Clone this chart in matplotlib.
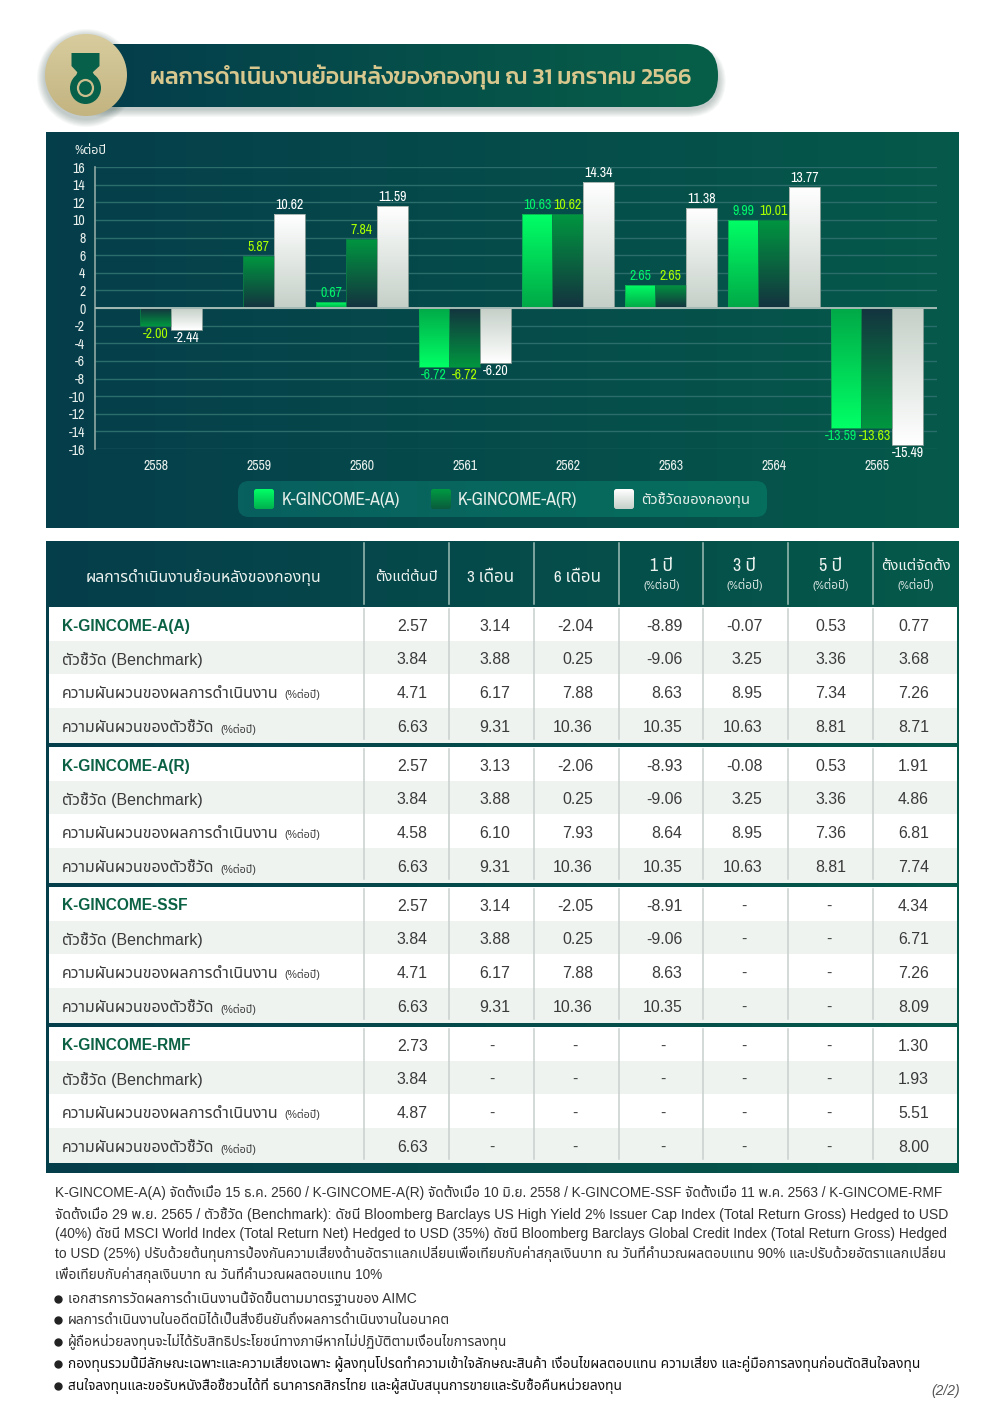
import numpy as np
import matplotlib
matplotlib.use("Agg")
import matplotlib.pyplot as plt
from matplotlib.colors import LinearSegmentedColormap, to_rgb
from matplotlib.patches import FancyBboxPatch, Circle, Ellipse, Polygon, Rectangle

plt.rcParams["axes.unicode_minus"] = False

# ข้อมูลกราฟ
years = ["2558", "2559", "2560", "2561", "2562", "2563", "2564", "2565"]
series_names = ["K-GINCOME-A(A)", "K-GINCOME-A(R)", "ตัวชี้วัดของกองทุน"]
fund_a = [np.nan, np.nan, 0.67, -6.72, 10.63, 2.65, 9.99, -13.59]
fund_r = [-2.00, 5.87, 7.84, -6.72, 10.62, 2.65, 10.01, -13.63]
benchmark = [-2.44, 10.62, 11.59, -6.20, 14.34, 11.38, 13.77, -15.49]

# ข้อมูลตาราง
columns = ["ตั้งแต่ต้นปี", "3 เดือน", "6 เดือน", "1 ปี", "3 ปี", "5 ปี", "ตั้งแต่จัดตั้ง"]
table_title = "ผลการดำเนินงานย้อนหลังของกองทุน"
per_year = "(%ต่อปี)"
fund_names = ["K-GINCOME-A(A)", "K-GINCOME-A(R)", "K-GINCOME-SSF", "K-GINCOME-RMF"]
row_bench = "ตัวชี้วัด (Benchmark)"
row_sd_fund = "ความผันผวนของผลการดำเนินงาน"
row_sd_bench = "ความผันผวนของตัวชี้วัด"

a_rows = [[2.57, 3.14, -2.04, -8.89, -0.07, 0.53, 0.77],
          [3.84, 3.88, 0.25, -9.06, 3.25, 3.36, 3.68],
          [4.71, 6.17, 7.88, 8.63, 8.95, 7.34, 7.26],
          [6.63, 9.31, 10.36, 10.35, 10.63, 8.81, 8.71]]
r_rows = [[2.57, 3.13, -2.06, -8.93, -0.08, 0.53, 1.91],
          [3.84, 3.88, 0.25, -9.06, 3.25, 3.36, 4.86],
          [4.58, 6.10, 7.93, 8.64, 8.95, 7.36, 6.81],
          [6.63, 9.31, 10.36, 10.35, 10.63, 8.81, 7.74]]
ssf_rows = [[2.57, 3.14, -2.05, -8.91, None, None, 4.34],
            [3.84, 3.88, 0.25, -9.06, None, None, 6.71],
            [4.71, 6.17, 7.88, 8.63, None, None, 7.26],
            [6.63, 9.31, 10.36, 10.35, None, None, 8.09]]
rmf_rows = [[2.73, None, None, None, None, None, 1.30],
            [3.84, None, None, None, None, None, 1.93],
            [4.87, None, None, None, None, None, 5.51],
            [6.63, None, None, None, None, None, 8.00]]

title = "ผลการดำเนินงานย้อนหลังของกองทุน ณ 31 มกราคม 2566"
notes = [
    "K-GINCOME-A(A) จัดตั้งเมื่อ 15 ธ.ค. 2560 / K-GINCOME-A(R) จัดตั้งเมื่อ 10 มิ.ย. 2558 / K-GINCOME-SSF จัดตั้งเมื่อ 11 พ.ค. 2563 / K-GINCOME-RMF",
    "จัดตั้งเมื่อ 29 พ.ย. 2565 / ตัวชี้วัด (Benchmark): ดัชนี Bloomberg Barclays US High Yield 2% Issuer Cap Index (Total Return Gross) Hedged to USD",
    "(40%) ดัชนี MSCI World Index (Total Return Net) Hedged to USD (35%) ดัชนี Bloomberg Barclays Global Credit Index (Total Return Gross) Hedged",
    "to USD (25%) ปรับด้วยต้นทุนการป้องกันความเสี่ยงด้านอัตราแลกเปลี่ยนเพื่อเทียบกับค่าสกุลเงินบาท ณ วันที่คำนวณผลตอบแทน 90% และปรับด้วยอัตราแลกเปลี่ยน",
    "เพื่อเทียบกับค่าสกุลเงินบาท ณ วันที่คำนวณผลตอบแทน 10%",
]
bullets = [
    "เอกสารการวัดผลการดำเนินงานนี้จัดขึ้นตามมาตรฐานของ AIMC",
    "ผลการดำเนินงานในอดีตมิได้เป็นสิ่งยืนยันถึงผลการดำเนินงานในอนาคต",
    "ผู้ถือหน่วยลงทุนจะไม่ได้รับสิทธิประโยชน์ทางภาษีหากไม่ปฏิบัติตามเงื่อนไขการลงทุน",
    "กองทุนรวมนี้มีลักษณะเฉพาะและความเสี่ยงเฉพาะ ผู้ลงทุนโปรดทำความเข้าใจลักษณะสินค้า เงื่อนไขผลตอบแทน ความเสี่ยง และคู่มือการลงทุนก่อนตัดสินใจลงทุน",
    "สนใจลงทุนและขอรับหนังสือชี้ชวนได้ที่ ธนาคารกสิกรไทย และผู้สนับสนุนการขายและรับซื้อคืนหน่วยลงทุน",
]

NARROW_LATIN = ["Liberation Sans Narrow", "Archivo Narrow", "Roboto Condensed", "Liberation Sans"]
NARROW = NARROW_LATIN + ["Noto Sans Thai", "DejaVu Sans"]
TITLE = ["Kanit", "Noto Sans Thai", "DejaVu Sans"]
ROW = ["Liberation Sans", "Noto Sans Thai", "DejaVu Sans"]
SANS = ["Liberation Sans", "DejaVu Sans"]

W, H = 1000, 1415
TEAL = "#053e4b"
GREEN = "#05594a"

fig = plt.figure(figsize=(W / 100, H / 100), dpi=100, facecolor="white")
renderer = fig.canvas.get_renderer()

# พื้นหลังใช้พิกัดเป็นพิกเซล
bg = fig.add_axes([0, 0, 1, 1], zorder=0)
bg.set_axis_off()


def gradient(ax, extent, c0, c1, vertical=False, clip=None, zorder=1):
    cmap = LinearSegmentedColormap.from_list("g", [to_rgb(c0), to_rgb(c1)])
    vals = np.linspace(0, 1, 64)
    img = vals[:, None] if vertical else vals[None, :]
    im = ax.imshow(img, cmap=cmap, extent=extent, origin="upper", aspect="auto",
                   interpolation="bilinear", zorder=zorder, vmin=0, vmax=1)
    if clip is not None:
        im.set_clip_path(clip)
    return im


def fit(t, width):
    # ปรับขนาดตัวอักษรให้ข้อความกว้างเท่าต้นฉบับ
    w = t.get_window_extent(renderer).width
    t.set_fontsize(t.get_fontsize() * width / w)
    return t


def rounded(x0, y0, x1, y1, r, **kw):
    return FancyBboxPatch((x0, y0), x1 - x0, y1 - y0,
                          boxstyle=f"round,pad=0,rounding_size={r}", **kw)


# หัวเรื่อง
for i in range(8):
    grow = 8 - i
    bg.add_patch(rounded(75 - grow, 48 - grow + 5, 718 + grow, 107 + grow + 2, 31 + grow,
                         fc="#1c3b33", ec="none", alpha=0.035, zorder=1))
    bg.add_patch(Circle((86, 78), 41 + grow, fc="#1c3b33", ec="none", alpha=0.035, zorder=1))
pill = rounded(75, 44, 718, 107, 31, fc="none", ec="none", zorder=2)
bg.add_patch(pill)
gradient(bg, (75, 718, 107, 44), "#043c4c", "#075f48", clip=pill, zorder=2)

medal = Circle((86, 75), 41, fc="none", ec="none", zorder=3)
bg.add_patch(medal)
gradient(bg, (45, 127, 116, 34), "#d8cc9e", "#c3b481", vertical=True, clip=medal, zorder=3)
bg.add_patch(Polygon([(71.5, 53), (99.5, 53), (99.5, 66), (92, 73), (78, 73), (71.5, 66)],
                     fc="#07604a", ec="none", zorder=4))
bg.add_patch(Ellipse((85.5, 88), 31, 32, fc="#07604a", ec="none", zorder=4))
bg.add_patch(Polygon([(78, 71), (92, 71), (96, 78), (75, 78)], fc="#07604a", ec="none", zorder=4))
bg.add_patch(Ellipse((85.5, 88), 15, 16, fc="none", ec="#cdbf8d", lw=1.6, zorder=5))

t = bg.text(150, 77, title, family=TITLE, weight="medium", fontsize=18, color="#d9c88e",
            ha="left", va="center", zorder=6)
fit(t, 541)

# แผงกราฟ
gradient(bg, (46, 959, 528, 132), TEAL, GREEN)

# ป้ายคำอธิบาย
legend_box = rounded(238, 481, 767, 517, 11, fc="none", ec="none", zorder=2)
bg.add_patch(legend_box)
gradient(bg, (238, 767, 517, 481), "#08605f", "#066e5c", clip=legend_box, zorder=2)
swatch_colors = [("#00ff66", "#00b14f"), ("#009a42", "#0a5c3c"), ("#ffffff", "#c6d0c9")]
swatch_x = [254, 431, 614]
text_x = [281.5, 458, 641]
text_w = [118, 119, 109]
for name, (c0, c1), sx, tx, tw in zip(series_names, swatch_colors, swatch_x, text_x, text_w):
    sw = rounded(sx, 489, sx + 20, 509, 2.5, fc="none", ec="none", zorder=3)
    bg.add_patch(sw)
    gradient(bg, (sx, sx + 20, 509, 489), c0, c1, vertical=True, clip=sw, zorder=3)
    t = bg.text(tx, 500, name, family=NARROW, fontsize=12, color="#e6eeea",
                ha="left", va="center", zorder=4)
    fit(t, tw)

t = bg.text(74, 150, "%ต่อปี", family=NARROW, fontsize=9, color="#eef3f0", ha="left", va="center", zorder=3)
fit(t, 32)

# ตาราง
gradient(bg, (46, 959, 1173, 541), TEAL, GREEN)

sep_x = [363.7, 448.7, 533.7, 618.7, 702.7, 787.7, 873.3]
for x in sep_x:
    bg.plot([x, x], [543, 604], color="#9dbdb6", lw=1.1, zorder=3)

t = bg.text(203, 577, table_title, family=NARROW, fontsize=12, color="#edf3f0", ha="center", va="center", zorder=3)
fit(t, 236)
head_x = [406.5, 491, 577, 661.5, 745, 831, 916]
head_w = [63, 47, 47, 23, 23, 23, 70]
for i, (label, hx, hw) in enumerate(zip(columns, head_x, head_w)):
    has_unit = i >= 3
    hy = 566 if has_unit else 577
    t = bg.text(hx, hy, label, family=NARROW, fontsize=12, color="#edf3f0", ha="center", va="center", zorder=3)
    fit(t, hw)
    if has_unit:
        t = bg.text(hx, 585, per_year, family=NARROW, fontsize=7.8, color="#d5e2de", ha="center", va="center", zorder=3)
        fit(t, 36)

num_right = [427.7, 510, 593, 682.3, 762.3, 846, 929]
dash_x = [412, 492, 575, 663, 744, 829, 914]
row_h = [34, 33, 34, 35]
blocks = [a_rows, r_rows, ssf_rows, rmf_rows]

for b, (fund, rows) in enumerate(zip(fund_names, blocks)):
    top = 607 + 140 * b
    y = top
    for r, h in enumerate(row_h):
        bg.add_patch(Rectangle((49, y), 907.5, h, fc="white" if r % 2 == 0 else "#eef3f0",
                               ec="none", zorder=2))
        yc = y + h / 2 + 2
        if r == 0:
            bg.text(62, yc, fund, family=SANS, weight="bold", fontsize=11.2, color="#0b6144",
                    ha="left", va="center", zorder=4)
        elif r == 1:
            t = bg.text(62, yc, row_bench, family=ROW, fontsize=11, color="#3a3a3a",
                        ha="left", va="center", zorder=4)
            fit(t, 141)
        else:
            label, label_w, ux = (row_sd_fund, 218, 284) if r == 2 else (row_sd_bench, 153, 220)
            t = bg.text(62, yc, label, family=ROW, fontsize=11, color="#3a3a3a",
                        ha="left", va="center", zorder=4)
            fit(t, label_w)
            t = bg.text(ux, yc + 1.5, per_year, family=ROW, fontsize=7, color="#3a3a3a",
                        ha="left", va="center", zorder=4)
            fit(t, 36)
        for c, v in enumerate(rows[r]):
            if v is None:
                bg.text(dash_x[c], yc, "-", family=SANS, fontsize=11.4, color="#444444",
                        ha="center", va="center", zorder=4)
            else:
                bg.text(num_right[c], yc + 0.5, f"{v:.2f}", family=SANS, fontsize=11.4, color="#3a3a3a",
                        ha="right", va="center", zorder=4)
        y += h
    for x in sep_x:
        bg.plot([x, x], [top + 2, top + 132], color="#c8cfcc", lw=1.1, zorder=3)

# หมายเหตุท้ายหน้า
note_y = [1193, 1214, 1234, 1254, 1275]
note_w = [890, 889, 891, 891, 328]
for s, y, w in zip(notes, note_y, note_w):
    t = bg.text(55, y, s, family=ROW, fontsize=9.5, color="#333333", ha="left", va="center", zorder=3)
    fit(t, w)

bullet_y = [1299, 1320, 1342, 1364, 1386]
bullet_w = [350, 384, 441, 853, 556]
for i, (s, y, w) in enumerate(zip(bullets, bullet_y, bullet_w)):
    bg.plot([58], [y], marker="o", ms=5, color="#222222", zorder=3)
    c = "#333333" if i < 3 else "#111111"
    t = bg.text(68, y, s, family=ROW, fontsize=9.5, color=c, weight="normal" if i < 3 else "bold",
                ha="left", va="center", zorder=3)
    fit(t, w)

bg.text(960, 1391, "(2/2)", family=SANS, style="italic", fontsize=10, color="#555555",
        ha="right", va="center", zorder=3)

bg.set_xlim(0, W)
bg.set_ylim(H, 0)

# กราฟแท่ง
ax = fig.add_axes([95 / W, 1 - 449 / H, (937 - 95) / W, (449 - 167) / H], zorder=2)
ax.patch.set_alpha(0)
x = np.arange(len(years))
bar_w = 0.298
styles = [
    (fund_a, -bar_w, "#00ff66", "#00a947", "#0aa84f", "#00f56a"),
    (fund_r, 0, "#009640", "#14333f", "#0a7a46", "#a8ff00"),
    (benchmark, bar_w, "#ffffff", "#c5d0c8", "#9aa8a2", "#ffffff"),
]
for vals, off, tip, base, edge, label_c in styles:
    bars = ax.bar(x + off, vals, bar_w, fc="none", ec=edge, lw=0.6, zorder=4)
    for bar, v in zip(bars, vals):
        if np.isnan(v):
            continue
        left = bar.get_x()
        right = left + bar.get_width()
        # ปลายแท่งสว่าง โคนแท่งเข้ม
        extent = (left, right, min(v, 0), max(v, 0))
        gradient(ax, extent, tip if v > 0 else base, base if v > 0 else tip,
                 vertical=True, clip=bar, zorder=3)
        shift = -3.5 if v == -13.59 else (-1.5 if v == -13.63 else 0)
        ax.annotate(f"{v:.2f}", (left + bar.get_width() / 2, v),
                    xytext=(shift, 6.5 if v > 0 else -5.8), textcoords="offset points",
                    ha="center", va="center", family=NARROW, fontsize=10, color=label_c, zorder=6)

ax.set_xlim((95 - 155.7) / 103, (937 - 155.7) / 103)
ax.set_ylim(-16, 16)
ax.set_yticks(np.arange(-16, 17, 2))
ax.set_xticks(x)
ax.set_xticklabels(years)
ax.grid(True, axis="y", color="#2a6d6a", lw=1)
ax.set_axisbelow(True)
ax.axhline(0, color="#a5bab4", lw=1.4, zorder=5)
for name in ["top", "right", "bottom"]:
    ax.spines[name].set_visible(False)
ax.spines["left"].set_color("#8fa8a3")
ax.spines["left"].set_linewidth(1.2)
ax.tick_params(axis="both", length=0, colors="#e8efec", labelsize=10)
ax.tick_params(axis="y", pad=7)
ax.tick_params(axis="x", pad=7)
for lab in ax.get_xticklabels() + ax.get_yticklabels():
    lab.set_fontfamily(NARROW)

fig.savefig("out.png", dpi=100, facecolor="white")
